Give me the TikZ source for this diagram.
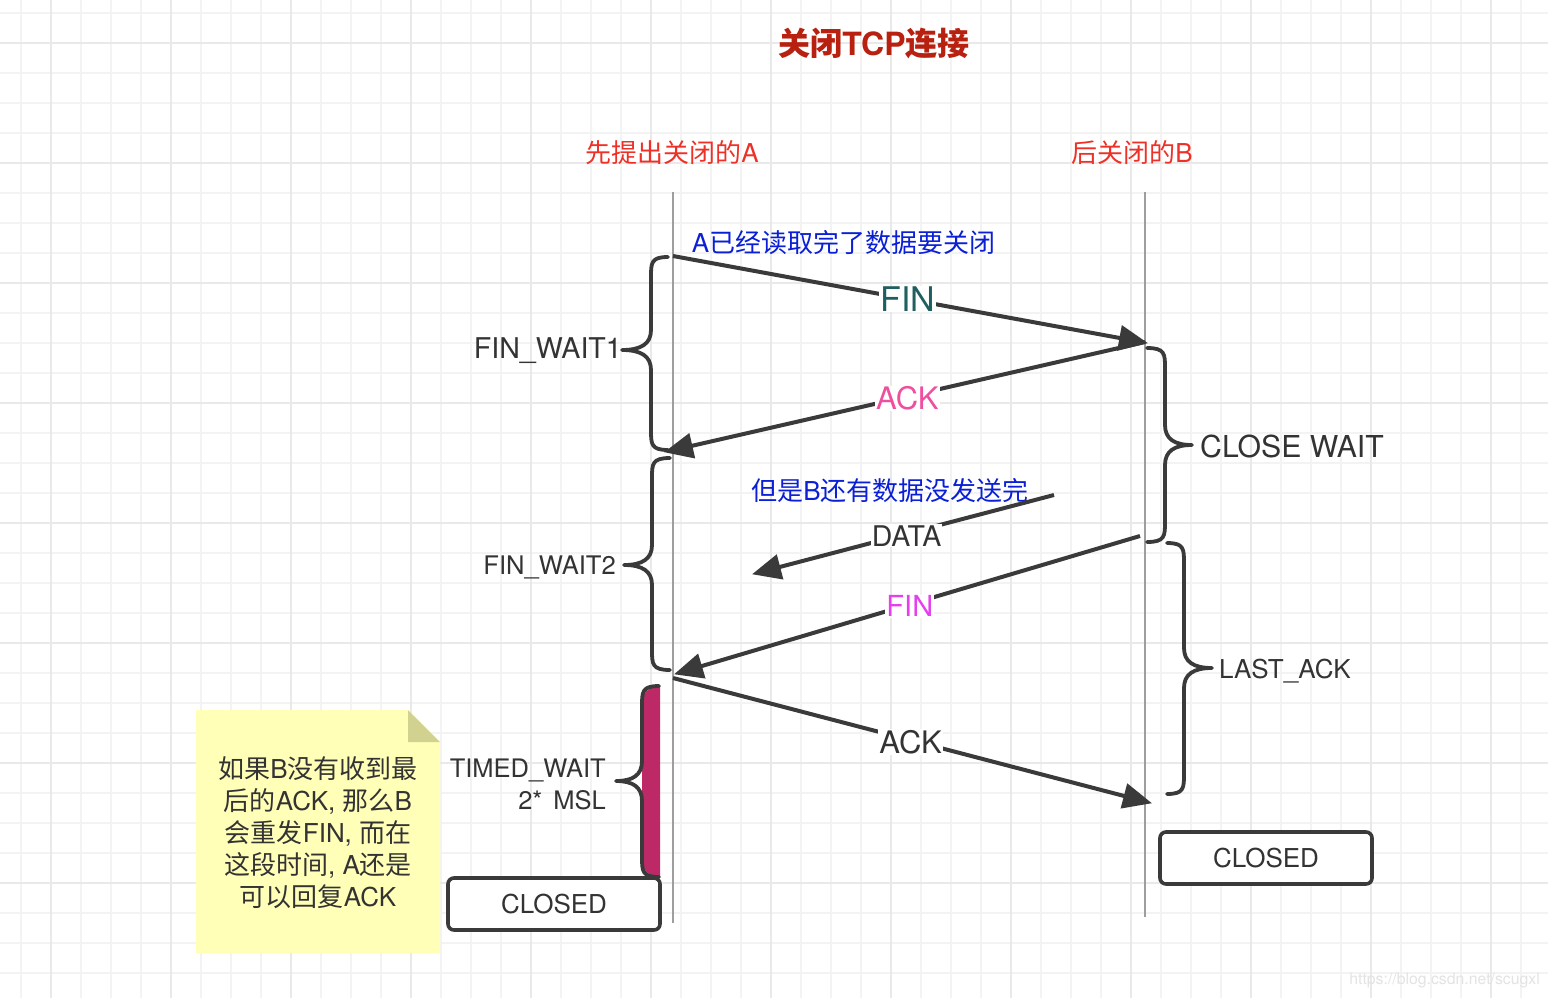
\documentclass[tikz,border=0pt]{standalone}
\usepackage{fontspec}
\setmainfont{TeX Gyre Heros}
\newfontfamily\cjk{Noto Sans CJK SC}
\usetikzlibrary{arrows.meta}
\definecolor{gridminor}{HTML}{F3F3F3}
\definecolor{gridmajor}{HTML}{E9E9E9}
\definecolor{ink}{HTML}{3A3A3A}
\definecolor{txt}{HTML}{333333}
\definecolor{redlabel}{HTML}{EE3026}
\definecolor{titlered}{HTML}{B8200F}
\definecolor{bluenote}{HTML}{0A1FD6}
\definecolor{tealfin}{HTML}{1F5F60}
\definecolor{pinkack}{HTML}{EE4F9E}
\definecolor{magfin}{HTML}{E640EE}
\definecolor{berry}{HTML}{BC2966}
\definecolor{notefill}{HTML}{FFFFB8}
\definecolor{notefold}{HTML}{D2D290}
\newcommand{\zh}[1]{{\cjk #1}}
\newcommand{\fsz}[1]{\fontsize{#1}{#1}\selectfont}
\newcommand{\bracepath}[7]{% end x, spine x, tip x, y top, y mid, y bottom
  (#1,#4) .. controls ({#2},#4) and ({#2},{#4+6}) .. ({#2},{#4+20})
  -- ({#2},{#5-20}) .. controls ({#2},{#5-6}) and ({#2+(#3-#2)*0.35},#5) .. (#3,#5)
  .. controls ({#2+(#3-#2)*0.35},#5) and ({#2},{#5+6}) .. ({#2},{#5+20})
  -- ({#2},{#6-20}) .. controls ({#2},{#6-6}) and ({#2},#6) .. (#1,#6)#7}
\tikzset{
  x=1pt,y=-1pt,
  lifeline/.style={draw=black!38,line width=1.8pt},
  msg/.style={draw=ink,line width=4pt,-{Triangle[length=29pt,width=25pt]},shorten >=-1pt},
  curly/.style={draw=ink,line width=3.8pt,line cap=round,line join=round},
  lbl/.style={inner sep=0pt,text=txt},
  onedge/.style={fill=white,inner sep=1pt,text=txt,yshift=-2pt},
  statebox/.style={draw=ink,line width=3.6pt,rounded corners=6pt,fill=white,text=txt,font=\fsz{26},minimum height=52pt,inner sep=0pt},
  head/.style={inner sep=0pt,text=redlabel,font=\fsz{26}},
  blue note/.style={inner sep=0pt,text=bluenote,font=\fsz{26}},
}
\begin{document}
\begin{tikzpicture}
\useasboundingbox (0,0) rectangle (1548,998);
\fill[white] (0,0) rectangle (1548,998);
% grid
\foreach \gx in {21,81,111,141,201,231,261,321,351,381,441,471,501,561,591,621,681,711,741,801,831,861,921,951,981,1041,1071,1101,1161,1191,1221,1281,1311,1341,1401,1431,1461,1521}
  \draw[gridminor,line width=1.6pt] (\gx,0) -- (\gx,998);
\foreach \gy in {13,73,103,133,193,223,253,313,343,373,433,463,493,553,583,613,673,703,733,793,823,853,913,943,973}
  \draw[gridminor,line width=1.6pt] (0,\gy) -- (1548,\gy);
\foreach \gx in {51,171,291,411,531,651,771,891,1011,1131,1251,1371,1491}
  \draw[gridmajor,line width=1.8pt] (\gx,0) -- (\gx,998);
\foreach \gy in {43,163,283,403,523,643,763,883}
  \draw[gridmajor,line width=1.8pt] (0,\gy) -- (1548,\gy);

% anchors
\coordinate (atop) at (673,192);
\coordinate (abot) at (673,923);
\coordinate (btop) at (1145,192);
\coordinate (bbot) at (1145,917);
\coordinate (fin1s) at (673,256);
\coordinate (fin1e) at (1147,343);
\coordinate (ack1s) at (1145,342);
\coordinate (ack1e) at (665,452);
\coordinate (datas) at (1054,495);
\coordinate (datae) at (753,574);
\coordinate (fin2s) at (1140,536);
\coordinate (fin2e) at (675,674);
\coordinate (ack2s) at (673,678);
\coordinate (ack2e) at (1151,803);

% title and heads
\node[inner sep=0pt,text=titlered,font=\fsz{32}\bfseries] (title) at (874,43.5) {\zh{关闭}TCP\zh{连接}};
\node[head] (heada) at (672,153) {\zh{先提出关闭的}A};
\node[head] (headb) at (1132,153) {\zh{后关闭的}B};

% lifelines
\draw[lifeline] (atop) -- (abot);
\draw[lifeline] (btop) -- (bbot);

% blue notes
\node[blue note] (note1) at (843.5,243) {A\zh{已经读取完了数据要关闭}};
\node[blue note] (note2) at (890,491) {\zh{但是}B\zh{还有数据没发送完}};

% messages
\draw[msg] (fin1s) -- node[onedge,text=tealfin,font=\fsz{34},pos=0.495,yshift=2pt] (lfin1) {FIN} (fin1e);
\draw[msg] (ack1s) -- node[onedge,text=pinkack,font=\fsz{31},pos=0.495] (lack1) {ACK} (ack1e);
\draw[msg] (datas) -- node[onedge,font=\fsz{28.5},pos=0.49] (ldata) {DATA} (datae);
\draw[msg] (fin2s) -- node[onedge,text=magfin,font=\fsz{29},pos=0.495] (lfin2) {FIN} (fin2e);
\draw[msg] (ack2s) -- node[onedge,font=\fsz{31},pos=0.497] (lack2) {ACK} (ack2e);

% braces
\draw[curly] \bracepath{668}{651}{622}{257}{350}{450}{};
\draw[curly] \bracepath{670}{652}{624}{458}{565}{670}{};
\fill[berry] (660,686) .. controls (648,687) and (642,692) .. (642,706) -- (642,858) .. controls (642,870) and (648,877) .. (660,877) -- cycle;
\draw[curly] \bracepath{659}{642}{616}{686}{781}{877}{};
\draw[curly] \bracepath{1147}{1165}{1192}{348}{445}{542}{};
\draw[curly] \bracepath{1167}{1184}{1212}{543}{668}{794}{};

% state labels
\node[lbl,font=\fsz{28.6},anchor=east] (fw1) at (622,351) {FIN\_WAIT1};
\node[lbl,font=\fsz{25.6},anchor=east] (fw2) at (616,567) {FIN\_WAIT2};
\node[lbl,font=\fsz{30.2},anchor=west] (cw) at (1200,446) {CLOSE WAIT};
\node[lbl,font=\fsz{26},anchor=west] (la) at (1219,671) {LAST\_ACK};
\node[lbl,font=\fontsize{25.5}{32}\selectfont,align=right,anchor=east] (tw) at (606,784) {TIMED\_WAIT\\2*\hspace{11pt}MSL};

% closed boxes
\node[statebox,minimum width=212pt] (closeda) at (554,904) {\raisebox{-1pt}{CLOSED}};
\node[statebox,minimum width=212pt] (closedb) at (1266,858) {\raisebox{-1pt}{CLOSED}};

% sticky note
\fill[notefill] (196,710) -- (408,710) -- (440,742) -- (440,953) -- (196,953) -- cycle;
\fill[notefold] (408,710) -- (440,742) -- (408,742) -- cycle;
\node[inner sep=0pt,text=txt,align=center,font=\fontsize{26}{32}\selectfont] (stick) at (318,833) {\zh{如果}B\zh{没有收到最}\\\zh{后的}ACK, \zh{那么}B\\\zh{会重发}FIN, \zh{而在}\\\zh{这段时间}, A\zh{还是}\\\zh{可以回复}ACK};

% watermark
\node[inner sep=0pt,anchor=east,text=black!11,font=\fsz{15.8}] (mark) at (1540,980) {https://blog.csdn.net/scugxl};
\end{tikzpicture}
\end{document}
